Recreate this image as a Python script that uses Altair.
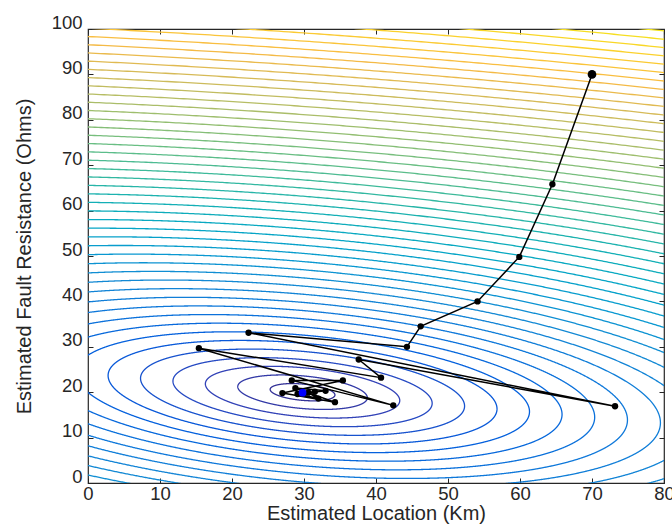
import numpy as np
import pandas as pd
import altair as alt

# ---------------- data ----------------
X_TICKS = [0, 10, 20, 30, 40, 50, 60, 70, 80]
Y_TICKS = [0, 10, 20, 30, 40, 50, 60, 70, 80, 90, 100]

# contour model (objective minimum and ellipse shapes)
CENTER = [29.8, 20.0]
A_INNER, B_INNER = 0.0551, 0.042     # shape of the inner ellipses
A_OUTER, B_OUTER = 0.030, 0.034      # flatter shape of the far contours
C_COEF = 0.309
K_SHAPE = 30.0
LEVELS = list(range(1, 49))
LEVEL_MAX = 51.0

# parula colormap stops
PARULA = ["#352a87", "#3244ba", "#035cdd", "#0d75db", "#1488d4", "#0998d1",
          "#05a6c6", "#15b0b4", "#37b99e", "#65be85", "#91be72", "#b7bd64",
          "#d9ba56", "#f8ba44", "#fcce2e", "#f4e41d", "#f9fb0e"]

# iteration path (estimated location, estimated resistance)
PATH_X = [70.0, 64.5, 59.9, 54.1, 46.2, 44.3, 22.3, 73.2, 37.6, 40.7, 15.4, 42.4,
          28.3, 35.4, 27.0, 34.3, 28.8, 33.0, 29.1, 32.0, 30.6, 31.5, 29.8]
PATH_Y = [90.0, 65.8, 49.8, 40.0, 34.5, 30.0, 33.1, 16.9, 27.2, 23.2, 29.7, 17.1,
          22.6, 22.6, 19.8, 17.8, 20.9, 20.3, 19.6, 18.6, 19.9, 20.1, 19.9]
BEST_X = [29.8]
BEST_Y = [19.9]


def hex_to_rgb(h):
    return np.array([int(h[i:i + 2], 16) for i in (1, 3, 5)], dtype=float)


STOPS = np.array([hex_to_rgb(c) for c in PARULA])


def parula(v):
    v = min(max(v, 0.0), 1.0) * (len(PARULA) - 1)
    i = int(np.floor(v))
    if i >= len(PARULA) - 1:
        c = STOPS[-1]
    else:
        f = v - i
        c = STOPS[i] * (1 - f) + STOPS[i + 1] * f
    return "#%02x%02x%02x" % tuple(int(round(x)) for x in c)


# contour lines: one ellipse per level
t = np.linspace(0, 2 * np.pi, 2401)
rows = []
for k in LEVELS:
    wgt = np.exp(-(k / K_SHAPE) ** 4)
    a = A_OUTER + (A_INNER - A_OUTER) * wgt
    b = B_OUTER + (B_INNER - B_OUTER) * wgt
    w, V = np.linalg.eigh(np.array([[a, b], [b, C_COEF]]))
    base = V @ np.vstack([np.cos(t) / np.sqrt(w[0]), np.sin(t) / np.sqrt(w[1])])
    xs = CENTER[0] + k * base[0]
    ys = CENTER[1] + k * base[1]
    inside = (xs >= -4) & (xs <= 84) & (ys >= -4) & (ys <= 104)
    col = parula(k / LEVEL_MAX)
    run = 0
    prev = False
    for j in range(len(t)):
        if inside[j]:
            if not prev:
                run += 1
            rows.append({"x": xs[j], "y": ys[j], "i": j, "run": f"{k}-{run}", "col": col})
        prev = inside[j]
cdf = pd.DataFrame(rows)

pdf = pd.DataFrame({"x": PATH_X, "y": PATH_Y, "i": list(range(len(PATH_X)))})
sdf = pdf.iloc[[0]]
bdf = pd.DataFrame({"x": BEST_X, "y": BEST_Y})

TXT = "#262626"
FONT = "Liberation Sans"
xscale = alt.Scale(domain=[0, 80], nice=False, zero=False)
yscale = alt.Scale(domain=[0, 100], nice=False, zero=False)

ax_bottom = alt.Axis(orient="bottom", values=X_TICKS, offset=-5, tickSize=5, domain=False,
                     grid=False, tickColor=TXT, labelColor=TXT, labelFont=FONT,
                     labelFontSize=18.5, labelPadding=1, titleFont=FONT, titleFontSize=20,
                     titleColor=TXT, titleFontWeight="normal", titlePadding=1, labelFlush=False)
ax_left = alt.Axis(orient="left", values=Y_TICKS, offset=-5, tickSize=5, domain=False,
                   grid=False, tickColor=TXT, labelColor=TXT, labelFont=FONT,
                   labelFontSize=18.5, labelPadding=6, labelOffset=-7, titleFont=FONT,
                   titleFontSize=20, titleColor=TXT, titleFontWeight="normal",
                   titlePadding=17, labelFlush=False)
ax_top = alt.Axis(orient="top", values=X_TICKS, offset=-5, tickSize=5, domain=False,
                  grid=False, tickColor=TXT, labels=False, title=None)
ax_right = alt.Axis(orient="right", values=Y_TICKS, offset=-5, tickSize=5, domain=False,
                    grid=False, tickColor=TXT, labels=False, title=None)

contours = alt.Chart(cdf).mark_line(strokeWidth=1.3, clip=True).encode(
    x=alt.X("x:Q", scale=xscale, axis=ax_bottom, title="Estimated Location (Km)"),
    y=alt.Y("y:Q", scale=yscale, axis=ax_left, title="Estimated Fault Resistance (Ohms)"),
    detail="run:N",
    order="i:Q",
    color=alt.Color("col:N", scale=None),
)

path = alt.Chart(pdf).mark_line(color="black", strokeWidth=1.5, clip=True).encode(
    x=alt.X("x:Q", scale=xscale, axis=ax_top, title=None),
    y=alt.Y("y:Q", scale=yscale, axis=ax_right, title=None),
    order="i:Q",
)
pts = alt.Chart(pdf).mark_circle(color="black", size=40, opacity=1).encode(
    x=alt.X("x:Q", axis=None), y=alt.Y("y:Q", axis=None))
start = alt.Chart(sdf).mark_circle(color="black", size=75, opacity=1).encode(
    x=alt.X("x:Q", axis=None), y=alt.Y("y:Q", axis=None))
best = alt.Chart(bdf).mark_circle(color="#0000ff", size=60, opacity=1).encode(
    x=alt.X("x:Q", axis=None), y=alt.Y("y:Q", axis=None))

chart = alt.layer(contours, path, pts, start, best).resolve_axis(
    x="independent", y="independent"
).properties(
    width=576, height=454,
    autosize=alt.AutoSizeParams(type="none"),
    padding={"left": 88, "top": 29, "right": 8, "bottom": 44},
    background="white",
).configure_view(stroke=TXT, strokeWidth=1.2)

chart.save("out.html", embed_options={"renderer": "svg", "actions": False})
